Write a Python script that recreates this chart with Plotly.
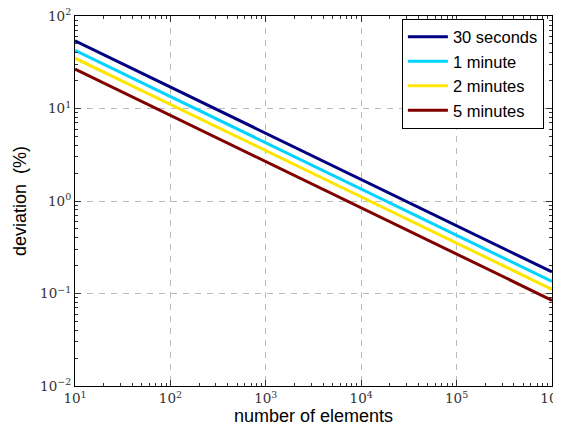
import plotly.graph_objects as go

n_elements = [10, 100, 1000, 10000, 100000, 1000000]
dev_30s = [54.0, 17.1, 5.4, 1.71, 0.54, 0.171]
dev_1m = [42.6, 13.5, 4.26, 1.35, 0.426, 0.135]
dev_2m = [35.0, 11.1, 3.5, 1.11, 0.35, 0.111]
dev_5m = [26.7, 8.45, 2.67, 0.845, 0.267, 0.0845]
series_names = ["30 seconds", "1 minute", "2 minutes", "5 minutes"]
colors = ["#000080", "#00d4ff", "#ffe600", "#800000"]

x_tickvals = [10, 100, 1000, 10000, 100000, 1000000]
x_ticktext = ["10<sup>1</sup>", "10<sup>2</sup>", "10<sup>3</sup>", "10<sup>4</sup>", "10<sup>5</sup>", "10<sup>6</sup>"]
y_tickvals = [0.01, 0.1, 1, 10, 100]
y_ticktext = ["10<sup>−2</sup>", "10<sup>−1</sup>", "10<sup>0</sup>", "10<sup>1</sup>", "10<sup>2</sup>"]

x_minor = [m * 10 ** e for e in range(1, 6) for m in range(2, 10)]
y_minor = [m * 10.0 ** e for e in range(-2, 2) for m in range(2, 10)]

fig = go.Figure()
for name, ys, c in zip(series_names, [dev_30s, dev_1m, dev_2m, dev_5m], colors):
    fig.add_trace(go.Scatter(x=n_elements, y=ys, mode="lines", name=name,
                             line=dict(color=c, width=3)))

def axis_common(minor_vals):
    return dict(
        showline=True, linecolor="black", linewidth=1.2, mirror="ticks",
        ticks="inside", ticklen=6, tickcolor="#333",
        showgrid=True, gridcolor="#bbbbbb", griddash="6px,6px", gridwidth=1,
        zeroline=False, automargin=False, ticklabeloverflow="allow",
        tickfont=dict(family="DejaVu Serif", size=13.5, color="#333"),
        minor=dict(tickmode="array", tickvals=minor_vals, ticks="inside",
                   ticklen=3, tickcolor="#333", showgrid=False),
    )

fig.update_xaxes(type="log", range=[1, 6.0005], tickmode="array",
                 tickvals=x_tickvals, ticktext=x_ticktext,
                 title=dict(text="number of elements", font=dict(family="Liberation Sans", size=18, color="black"), standoff=0),
                 **axis_common(x_minor))
fig.update_yaxes(type="log", range=[-2, 2.0005], tickmode="array",
                 tickvals=y_tickvals, ticktext=y_ticktext,
                 title=dict(text="deviation\u00a0\u00a0(%)", font=dict(family="Liberation Sans", size=18, color="black"), standoff=8),
                 **axis_common(y_minor))

fig.update_layout(
    width=561, height=428,
    margin=dict(l=67, r=17, t=8, b=50),
    plot_bgcolor="white", paper_bgcolor="white",
    showlegend=True,
    legend=dict(x=0.983, y=0.993, xanchor="right", yanchor="top",
                bgcolor="white", bordercolor="black", borderwidth=1,
                font=dict(family="Liberation Sans", size=16.5, color="black"),
                itemwidth=40, tracegroupgap=0),
)

fig.write_html("out.html")
